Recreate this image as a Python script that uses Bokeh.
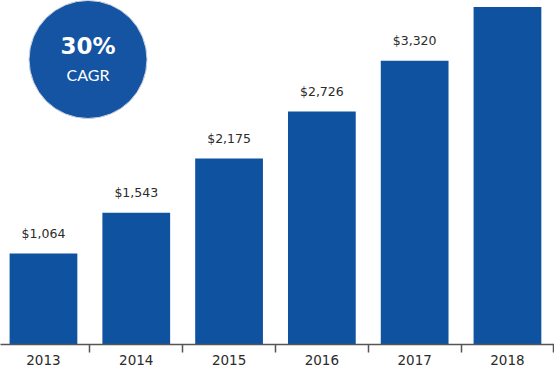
from bokeh.plotting import figure
from bokeh.models import ColumnDataSource, FixedTicker, Range1d, Label
from bokeh.core.properties import value
from bokeh.embed import file_html
from bokeh.resources import INLINE

# Annual revenue, $ millions
years = ["2013", "2014", "2015", "2016", "2017", "2018"]
revenue = [1064, 1543, 2175, 2726, 3320, 3950]
value_labels = ["$1,064", "$1,543", "$2,175", "$2,726", "$3,320", ""]
cagr_text = "30%"
cagr_caption = "CAGR"

BLUE = "#0f52a0"
TEXT = "#2b2b2b"

idx = list(range(len(years)))
src = ColumnDataSource(dict(x=idx, top=revenue, label=value_labels))

p = figure(width=554, height=377, output_backend="svg", toolbar_location=None,
           x_range=Range1d(-0.463, 5.507), y_range=Range1d(0, 4025),
           min_border_left=0, min_border_right=0, min_border_top=0,
           min_border_bottom=33)
p.outline_line_color = None
p.xgrid.visible = False
p.ygrid.visible = False
p.yaxis.visible = False
p.background_fill_color = "white"
p.border_fill_color = "white"

p.vbar(x="x", top="top", bottom=0, width=0.73, source=src,
       fill_color=BLUE, line_color=None)

p.text(x="x", y="top", text="label", source=src, y_offset=-20,
       text_align="center", text_baseline="middle",
       text_font=value("DejaVu Sans"), text_font_size="12.5px", text_color=TEXT)

# Year axis: labels centred under bars, tick marks between categories
ax = p.xaxis[0]
ax.ticker = FixedTicker(ticks=idx, minor_ticks=[i + 0.5 for i in idx])
ax.major_label_overrides = {i: y for i, y in zip(idx, years)}
ax.major_tick_out = 0
ax.major_tick_in = 0
ax.minor_tick_out = 8
ax.minor_tick_in = 0
ax.minor_tick_line_color = "#555555"
ax.minor_tick_line_width = 1.5
ax.axis_line_color = "#555555"
ax.axis_line_width = 1.5
ax.major_label_standoff = 2
ax.major_label_text_font = "DejaVu Sans"
ax.major_label_text_font_size = "13.5px"
ax.major_label_text_color = TEXT

# CAGR badge
bx, by = 0.48, 3335
p.scatter(x=[bx], y=[by], size=118, marker="circle",
          fill_color="#1554a3", line_color="#c9d3e0", line_width=1)
p.add_layout(Label(x=bx, y=by, y_offset=13, text=cagr_text,
                   text_align="center", text_baseline="middle",
                   text_font="DejaVu Sans", text_font_style="bold",
                   text_font_size="23px", text_color="white"))
p.add_layout(Label(x=bx, y=by, y_offset=-15, text=cagr_caption,
                   text_align="center", text_baseline="middle",
                   text_font="Lato", text_font_size="16px", text_color="white"))

open("out.html", "w").write(file_html(p, INLINE))
